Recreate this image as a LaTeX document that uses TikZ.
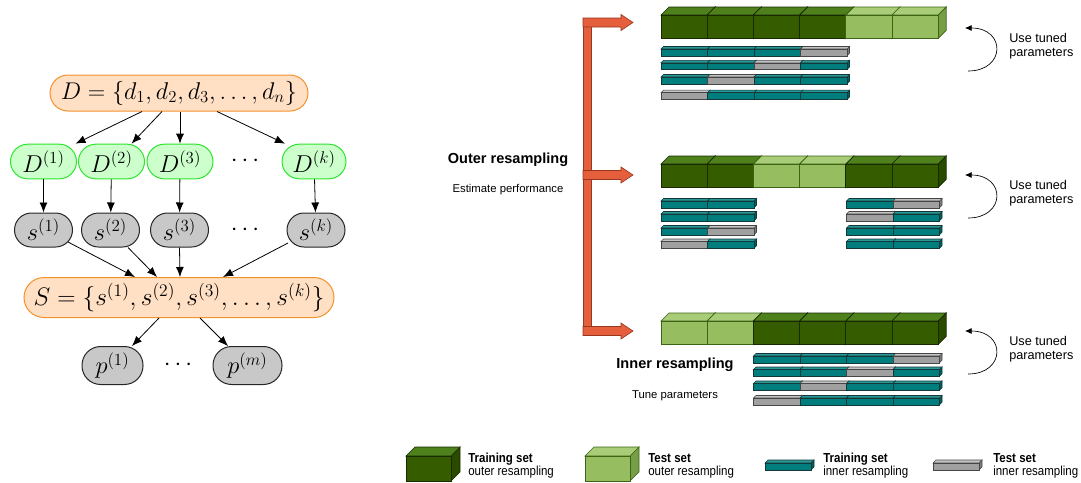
\documentclass[tikz,border=0pt]{standalone}
\usepackage{graphicx}
\usepackage{fontspec}
\newfontfamily\labelfont{Liberation Sans}
\newfontfamily\legendfont[FakeStretch=0.88]{Liberation Sans}
\usetikzlibrary{arrows.meta,calc}

% node colours of the tree
\definecolor{peachfill}{RGB}{255,224,196}
\definecolor{peachdraw}{RGB}{245,145,45}
\definecolor{mintfill}{RGB}{204,255,204}
\definecolor{mintdraw}{RGB}{45,230,45}
\definecolor{greyfill}{RGB}{200,200,200}
% block colours: front, top, side, edge
\definecolor{darkfront}{RGB}{54,92,0}
\definecolor{darktop}{RGB}{78,128,28}
\definecolor{darkside}{RGB}{42,74,0}
\definecolor{darkedge}{RGB}{25,42,0}
\definecolor{lightfront}{RGB}{150,190,96}
\definecolor{lighttop}{RGB}{168,204,120}
\definecolor{lightside}{RGB}{118,158,70}
\definecolor{lightedge}{RGB}{60,100,20}
\definecolor{tealfront}{RGB}{0,125,125}
\definecolor{tealtop}{RGB}{40,152,152}
\definecolor{tealside}{RGB}{0,95,95}
\definecolor{tealedge}{RGB}{20,55,55}
\definecolor{greyfront}{RGB}{160,160,160}
\definecolor{greytop}{RGB}{196,196,196}
\definecolor{greyside}{RGB}{125,125,125}
\definecolor{greyedge}{RGB}{70,70,70}
\definecolor{arrowfill}{RGB}{230,95,60}
\definecolor{arrowdraw}{RGB}{150,55,30}

\newcommand\bigmath{\fontsize{17.28}{20}\selectfont}
% formula set a little larger than the 17.28pt design size
\newcommand\formula[2][1.06]{\scalebox{#1}{$#2$}}

% one box of a bar: x, top of front face, width, height, depth, kind
\newcommand\cell[6]{%
  \filldraw[draw=#6edge, fill=#6side] (#1+#3,#2) -- ++(#5,-#5) -- ++(0,#4) -- ++(-#5,#5) -- cycle;
  \filldraw[draw=#6edge, fill=#6top] (#1,#2) -- ++(#5,-#5) -- ++(#3,0) -- ++(-#5,#5) -- cycle;
  \filldraw[draw=#6edge, fill=#6front] (#1,#2) rectangle ++(#3,#4);
}
% a bar of outer folds: top of front face, kinds
\newcommand\outerbar[2]{%
  \foreach \kind [count=\i from 0] in {#2} {\cell{661+\i*46.2}{#1}{46.2}{23.5}{8}{\kind}}%
}
% a bar of inner folds: left x, top of front face, kinds
\newcommand\innerbar[3]{%
  \foreach \kind [count=\i from 0] in {#3} {\cell{#1+\i*46.5}{#2}{46.5}{6.8}{2.5}{\kind}}%
}
% orange branch arrow: left x, centre y, tip x
\newcommand\branch[3]{%
  \filldraw[draw=arrowdraw, fill=arrowfill, line width=0.5pt]
    (#1,#2-4.5) -- (#3-12,#2-4.5) -- (#3-12,#2-8) -- (#3,#2) -- (#3-12,#2+8)
    -- (#3-12,#2+4.5) -- (#1,#2+4.5) -- cycle;
}

\begin{document}
\begin{tikzpicture}[x=0.75pt,y=-0.75pt,
  setbox/.style={draw=peachdraw, fill=peachfill, line width=0.75pt, inner sep=0pt,
    rounded corners=13.5pt, minimum height=27pt, font=\bigmath},
  foldbox/.style={draw=mintdraw, fill=mintfill, line width=0.75pt, inner sep=0pt,
    rounded corners=13pt, minimum height=26pt, minimum width=49.5pt, font=\bigmath},
  fitbox/.style={draw=black!85, fill=greyfill, line width=0.75pt, inner sep=0pt,
    rounded corners=12.75pt, minimum height=25.5pt, minimum width=43.5pt, font=\bigmath},
  gapdots/.style={inner sep=0pt, font=\bigmath},
  flow/.style={-{Latex[length=7.5pt,width=6pt]}, line width=0.6pt},
  headlabel/.style={font=\labelfont\bfseries\fontsize{10.9}{13}\selectfont, inner sep=0pt},
  sublabel/.style={font=\labelfont\fontsize{8.5}{10}\selectfont, inner sep=0pt},
  tunelabel/.style={font=\labelfont\fontsize{9.5}{10.5}\selectfont, inner sep=0pt, align=left, anchor=west},
  keylabel/.style={font=\legendfont\fontsize{9.8}{9.75}\selectfont, inner sep=0pt, align=left, anchor=west},
  loop/.style={-{Latex[length=5pt,width=4.5pt]}, line width=0.5pt}]
\useasboundingbox (0,0) rectangle (1081,482);

% ---------------- resampling tree ----------------
\node[setbox, minimum width=193.5pt] (Dset) at (179,93) {\formula[1.05]{D=\{d_1,d_2,d_3,\ldots,d_n\}}};
\node[foldbox] (D1) at (43.5,161.5) {\formula{D^{(1)}}};
\node[foldbox] (D2) at (111.5,161.5) {\formula{D^{(2)}}};
\node[foldbox] (D3) at (180,161.5) {\formula{D^{(3)}}};
\node[gapdots] (Ddots) at (245,161.5) {\formula{\cdots}};
\node[foldbox, minimum width=48pt] (Dk) at (314,161.5) {\formula{D^{(k)}}};

\node[fitbox] (s1) at (43.5,230) {\formula{s^{(1)}}};
\node[fitbox] (s2) at (110.5,230) {\formula{s^{(2)}}};
\node[fitbox] (s3) at (179.5,230) {\formula{s^{(3)}}};
\node[gapdots] (sdots) at (245,230) {\formula{\cdots}};
\node[fitbox] (sk) at (316,230) {\formula{s^{(k)}}};

\node[setbox, minimum width=232.5pt, minimum height=30pt, rounded corners=15pt] (Sset) at (179,297.5)
  {\formula[1.1]{S=\{s^{(1)},s^{(2)},s^{(3)},\ldots,s^{(k)}\}}};

\node[fitbox, minimum width=45.75pt, minimum height=28.5pt, rounded corners=14pt] (p1) at (112.5,365.5) {\formula{p^{(1)}}};
\node[gapdots] (pdots) at (178,365.5) {\formula{\cdots}};
\node[fitbox, minimum width=51.75pt, minimum height=28.5pt, rounded corners=14pt] (pm) at (247.5,365.5) {\formula{p^{(m)}}};

\draw[flow] ($(Dset.south)+(-37,0)$) -- ($(D1.north)+(32,0)$);
\draw[flow] ($(Dset.south)+(-17,0)$) -- ($(D2.north)+(20,0)$);
\draw[flow] ($(Dset.south)+(1,0)$) -- (D3.north);
\draw[flow] ($(Dset.south)+(38,0)$) -- ($(Dk.north)+(-29,0)$);

\draw[flow] (D1) -- (s1);
\draw[flow] (D2) -- (s2);
\draw[flow] (D3) -- (s3);
\draw[flow] (Dk) -- (sk);

\draw[flow] ($(s1.center)+(24.5,12)$) -- ($(Sset.north)+(-44,0)$);
\draw[flow] ($(s2.south)+(17.5,0)$) -- ($(Sset.north)+(-22,0)$);
\draw[flow] (s3.south) -- ($(Sset.north)+(1,0)$);
\draw[flow] ($(sk.center)+(-28,13)$) -- ($(Sset.north)+(44,0)$);

\draw[flow] ($(Sset.south)+(-20,0)$) -- ($(p1.north)+(19.5,0)$);
\draw[flow] ($(Sset.south)+(21,0)$) -- ($(pm.north)+(-19.5,0)$);

% ---------------- nested resampling ----------------
\filldraw[draw=arrowdraw, fill=arrowfill, line width=0.5pt] (583,18) rectangle (591,335.5);
\branch{583}{22.5}{633}
\branch{583}{175}{633}
\branch{583}{331}{633}

\node[headlabel] (outerhead) at (508,160) {Outer resampling};
\node[sublabel] (outersub) at (508,190) {Estimate performance};
\node[headlabel] (innerhead) at (675,365) {Inner resampling};
\node[sublabel] (innersub) at (675,396) {Tune parameters};

\begin{scope}[line width=0.5pt]
  \outerbar{15}{dark,dark,dark,dark,light,light}
  \outerbar{164}{dark,dark,light,light,dark,dark}
  \outerbar{321}{light,light,dark,dark,dark,dark}
\end{scope}

\begin{scope}[line width=0.4pt]
  \innerbar{661}{49}{teal,teal,teal,grey}
  \innerbar{661}{62.8}{teal,teal,grey,teal}
  \innerbar{661}{77}{teal,grey,teal,teal}
  \innerbar{661}{92.7}{grey,teal,teal,teal}

  \innerbar{661}{201}{teal,teal}
  \innerbar{661}{214}{teal,teal}
  \innerbar{661}{228}{teal,grey}
  \innerbar{661}{241.5}{grey,teal}
  \innerbar{846.5}{201}{teal,grey}
  \innerbar{846.5}{214}{grey,teal}
  \innerbar{846.5}{228}{teal,teal}
  \innerbar{846.5}{241.5}{teal,teal}

  \innerbar{753.5}{356}{teal,teal,teal,grey}
  \innerbar{753.5}{369.5}{teal,teal,grey,teal}
  \innerbar{753.5}{383.5}{teal,grey,teal,teal}
  \innerbar{753.5}{398}{grey,teal,teal,teal}
\end{scope}

% tuned parameters fed back
\coordinate (loopAfrom) at (968,71);
\coordinate (loopAto) at (965,28);
\coordinate (loopBfrom) at (968,218);
\coordinate (loopBto) at (965,175);
\coordinate (loopCfrom) at (968,374);
\coordinate (loopCto) at (965,331);
\draw[loop] (loopAfrom) .. controls +(38,0) and +(41,0) .. (loopAto);
\draw[loop] (loopBfrom) .. controls +(38,0) and +(41,0) .. (loopBto);
\draw[loop] (loopCfrom) .. controls +(38,0) and +(41,0) .. (loopCto);
\node[tunelabel] (tuneA) at (1009,46) {Use tuned\\parameters};
\node[tunelabel] (tuneB) at (1009,193) {Use tuned\\parameters};
\node[tunelabel] (tuneC) at (1009,349.5) {Use tuned\\parameters};

% ---------------- legend ----------------
\begin{scope}[line width=0.5pt]
  \cell{406}{456}{45}{25}{9}{dark}
  \cell{585}{456}{45}{25}{9}{light}
\end{scope}
\begin{scope}[line width=0.4pt]
  \cell{765}{463}{46}{7}{3}{teal}
  \cell{933}{463}{46}{7}{3}{grey}
\end{scope}
\node[keylabel] (keyA) at (468,466) {\bfseries Training set\\outer resampling};
\node[keylabel] (keyB) at (648,466) {\bfseries Test set\\outer resampling};
\node[keylabel] (keyC) at (823,466) {\bfseries Training set\\inner resampling};
\node[keylabel] (keyD) at (993,466) {\bfseries Test set\\inner resampling};
\end{tikzpicture}
\end{document}
